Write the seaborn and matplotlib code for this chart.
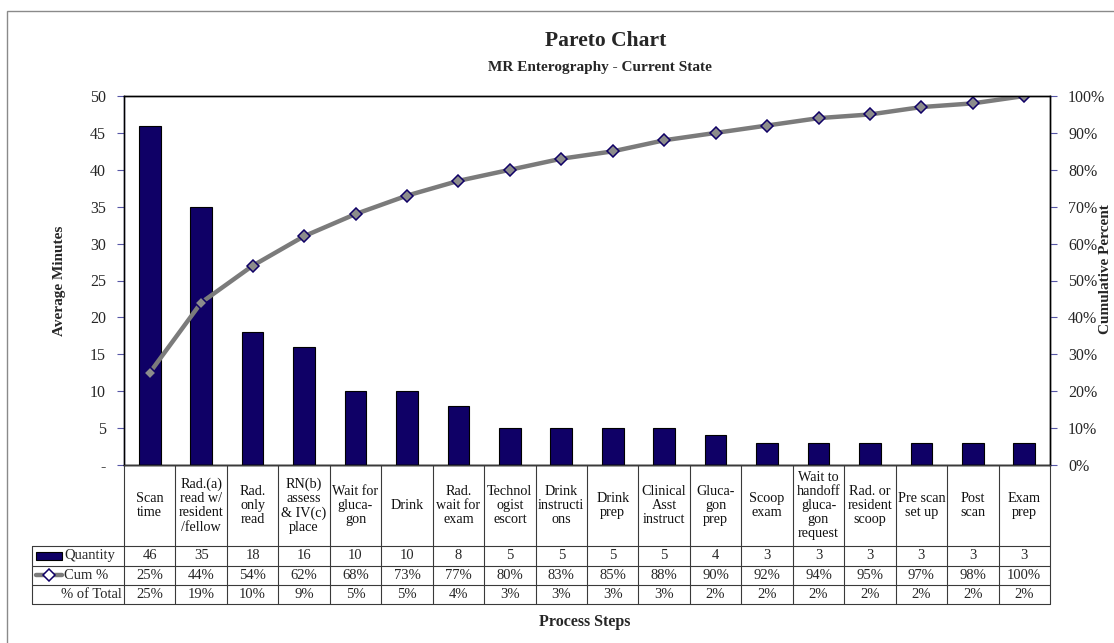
import numpy as np
import pandas as pd
import matplotlib
matplotlib.use("Agg")
import matplotlib.pyplot as plt
import seaborn as sns
from matplotlib.patches import Rectangle
from matplotlib.lines import Line2D

# --- data ---
steps = [
    "Scan\ntime", "Rad.(a)\nread w/\nresident\n/fellow", "Rad.\nonly\nread",
    "RN(b)\nassess\n& IV(c)\nplace", "Wait for\ngluca-\ngon", "Drink",
    "Rad.\nwait for\nexam", "Technol\nogist\nescort", "Drink\ninstructi\nons",
    "Drink\nprep", "Clinical\nAsst\ninstruct", "Gluca-\ngon\nprep",
    "Scoop\nexam", "Wait to\nhandoff\ngluca-\ngon\nrequest", "Rad. or\nresident\nscoop",
    "Pre scan\nset up", "Post\nscan", "Exam\nprep",
]
quantity = [46, 35, 18, 16, 10, 10, 8, 5, 5, 5, 5, 4, 3, 3, 3, 3, 3, 3]
cum_pct = [25, 44, 54, 62, 68, 73, 77, 80, 83, 85, 88, 90, 92, 94, 95, 97, 98, 100]
pct_total = [25, 19, 10, 9, 5, 5, 4, 3, 3, 3, 3, 2, 2, 2, 2, 2, 2, 2]
left_ticks = list(range(0, 51, 5))
right_ticks = list(range(0, 101, 10))

sns.set_theme(style="white")
plt.rcParams['font.family'] = ['Liberation Serif', 'DejaVu Serif']

NAVY = '#0f0066'
GRAY = '#7b7b7b'
TICK = '#5656a6'
GRID = '#3a3a3a'

W, H = 1114, 643
fig = plt.figure(figsize=(W / 100, H / 100), dpi=100)


def box(l, t, r, b):
    return [l / W, 1 - b / H, (r - l) / W, (b - t) / H]


df = pd.DataFrame({'step': steps, 'quantity': quantity, 'cum': cum_pct})
n = len(df)

# bars
ax = fig.add_axes(box(124, 96, 1050, 465))
sns.barplot(data=df, x='step', y='quantity', order=steps, color=NAVY, saturation=1,
            width=0.42, edgecolor='black', linewidth=0.8, ax=ax)
ax.set_xlim(-0.5, n - 0.5)
ax.set_ylim(0, 50)
ax.set_yticks(left_ticks)
ax.set_yticklabels(['-' if v == 0 else str(v) for v in left_ticks])
ax.tick_params(axis='y', direction='out', length=5, width=0.8, color=TICK,
               labelsize=11.5, pad=8, left=True)
ax.tick_params(axis='x', bottom=False, labelbottom=False)
ax.set_xlabel('')
ax.set_ylabel('')
for s in ax.spines.values():
    s.set_color('black')
    s.set_linewidth(1)
ax.spines['left'].set_color('#1a1a4a')

# cumulative line
ax2 = ax.twinx()
sns.lineplot(x=df.index, y=df['cum'], ax=ax2, color=GRAY, linewidth=3.2,
             marker='D', markersize=6.5, markerfacecolor='#8c8c8c',
             markeredgecolor=NAVY, markeredgewidth=1.1)
ax2.set_xlim(-0.5, n - 0.5)
ax2.set_ylim(0, 100)
ax2.set_yticks(right_ticks)
ax2.set_yticklabels([f"{v}%" for v in right_ticks])
ax2.tick_params(axis='y', direction='out', length=5, width=0.8, color=TICK,
                labelsize=11.5, pad=8, right=True)
ax2.set_ylabel('')
for s in ax2.spines.values():
    s.set_color('black')
    s.set_linewidth(1)

# data table under the plot, sharing the category positions
cellw = (1050 - 124) / n
x_left = -0.5 - (124 - 32) / cellw
tab = fig.add_axes(box(32, 465, 1050, 604))
tab.set_xlim(x_left, n - 0.5)
tab.set_ylim(139, 0)
tab.axis('off')

rows_y = [0, 81, 100.5, 120, 139]
lw = 0.8
tab.plot([-0.5, n - 0.5], [0, 0], color=GRID, lw=lw, clip_on=False)
for yb in rows_y[1:]:
    tab.plot([x_left, n - 0.5], [yb, yb], color=GRID, lw=lw, clip_on=False)
for k in range(n + 1):
    tab.plot([k - 0.5, k - 0.5], [0, 139], color=GRID, lw=lw, clip_on=False)
tab.plot([x_left, x_left], [81, 139], color=GRID, lw=lw, clip_on=False)

for i in range(n):
    tab.text(i, 40.5, steps[i], ha='center', va='center', fontsize=10.2,
             linespacing=1.12, color='#111111')
    tab.text(i, 90.75, str(quantity[i]), ha='center', va='center', fontsize=10.5)
    tab.text(i, 110.25, f"{cum_pct[i]}%", ha='center', va='center', fontsize=10.5)
    tab.text(i, 129.5, f"{pct_total[i]}%", ha='center', va='center', fontsize=10.5)


def px2x(px):
    return -0.5 + (px - 124) / cellw


tab.add_patch(Rectangle((px2x(36), 86.5), px2x(62) - px2x(36), 8.5,
                        facecolor=NAVY, edgecolor='black', lw=0.8))
tab.text(px2x(64), 90.75, 'Quantity', ha='left', va='center', fontsize=10.5)
tab.add_line(Line2D([px2x(36), px2x(62)], [110.25, 110.25], color=GRAY, lw=3.2))
tab.add_line(Line2D([px2x(49)], [110.25], marker='D', markersize=6.5,
                    markerfacecolor='white', markeredgecolor=NAVY, markeredgewidth=1.1))
tab.text(px2x(64), 110.25, 'Cum %', ha='left', va='center', fontsize=10.5)
tab.text(px2x(122), 129.5, '% of Total', ha='right', va='center', fontsize=10.5)

# titles and axis labels
fig.text(606 / W, 1 - 41 / H, 'Pareto Chart', ha='center', va='center',
         fontsize=15.5, fontweight='bold')
fig.text(600 / W, 1 - 68 / H, 'MR Enterography - Current State', ha='center',
         va='center', fontsize=11, fontweight='bold')
fig.text(60 / W, 1 - 281 / H, 'Average Minutes', ha='center', va='center',
         rotation=90, fontsize=11, fontweight='bold')
fig.text(1099 / W, 1 - 269 / H, 'Cumulative Percent', ha='left', va='center',
         rotation=90, fontsize=11, fontweight='bold')
fig.text(585 / W, 1 - 622 / H, 'Process Steps', ha='center', va='center',
         fontsize=11.5, fontweight='bold')

# outer chart frame
fig.patches.append(Rectangle((7 / W, -0.1), 1.2, 1.1 - 11 / H, transform=fig.transFigure,
                             fill=False, edgecolor='#8a8a8a', lw=1, figure=fig))

fig.savefig('out.png', dpi=100)
